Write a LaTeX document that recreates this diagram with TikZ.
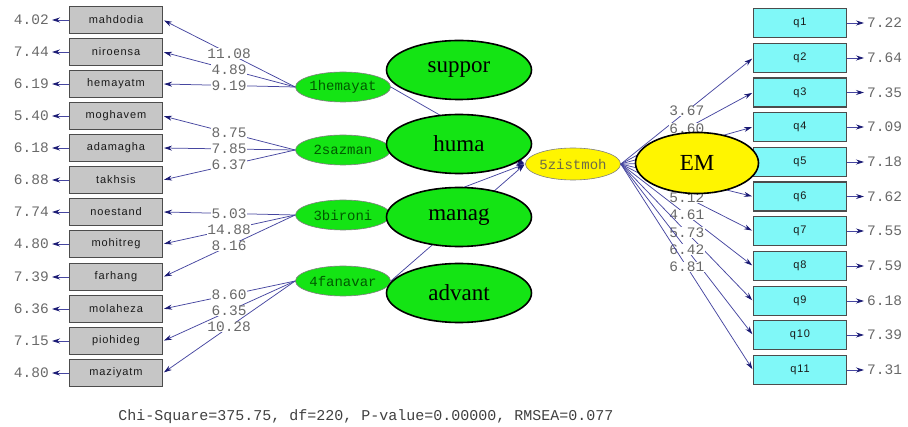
\documentclass[tikz,border=0pt]{standalone}
\usepackage{fontspec}
\setmainfont{Liberation Serif}
\newfontfamily\monof{Liberation Mono}
\newfontfamily\boxf[LetterSpace=8]{Liberation Sans}
\usetikzlibrary{shapes.geometric,arrows.meta}
\definecolor{lgreen}{RGB}{20,228,20}
\definecolor{lyellow}{RGB}{255,245,0}
\definecolor{lcyan}{RGB}{128,248,248}
\definecolor{lgray}{RGB}{198,198,198}
\definecolor{navy}{RGB}{70,70,160}
\definecolor{tipc}{RGB}{25,25,115}
\definecolor{numgray}{RGB}{105,105,105}
\tikzset{
  obs/.style={rectangle, draw=black!70, line width=1.1pt, fill=lgray, minimum width=93pt, minimum height=27pt, inner sep=0pt, font=\boxf\fontsize{11}{13}\selectfont, text=black!90},
  qbox/.style={obs, fill=lcyan, minimum height=29pt},
  lv/.style={ellipse, draw=black!50, line width=0.6pt, fill=lgreen, minimum width=95pt, minimum height=30pt, inner sep=0pt, font=\monof\fontsize{14}{16}\selectfont, text=black!65!green},
  zv/.style={lv, fill=lyellow, minimum width=92pt, minimum height=32pt, text=black!65!yellow},
  bigv/.style={ellipse, draw=black, line width=1.6pt, fill=lgreen, minimum width=145pt, minimum height=59pt, inner sep=0pt, font=\fontsize{23}{26}\selectfont},
  num/.style={font=\monof\fontsize{14.5}{16}\selectfont, text=numgray, inner sep=2pt},
  lab/.style={num, fill=white, inner sep=0.5pt},
  conn/.style={draw=navy, line width=0.75pt, -{Stealth[length=8pt,width=5pt,color=tipc]}, shorten >=1pt}
}
\begin{document}
\begin{tikzpicture}[x=1pt,y=-1pt]
\useasboundingbox (0,0) rectangle (908,427);
% left observed boxes
\foreach \n/\t/\y/\e in {a1/mahdodia/20/4.02, a2/niroensa/52/7.44, a3/hemayatm/84/6.19,
  a4/moghavem/116/5.40, a5/adamagha/148/6.18, a6/takhsis/180/6.88,
  a7/noestand/212/7.74, a8/mohitreg/244/4.80, a9/farhang/277/7.39,
  a10/molaheza/309/6.36, a11/piohideg/341/7.15, a12/maziyatm/373/4.80}{
  \node[obs] (\n) at (116,\y) {\t};
  \node[num, anchor=east] (e\n) at (51,\y) {\e};
  \draw[conn] (\n.west) -- (e\n.east);
}
% right observed boxes
\foreach \n/\t/\y/\e in {q1/q1/23/7.22, q2/q2/58/7.64, q3/q3/92.5/7.35, q4/q4/127/7.09,
  q5/q5/162/7.18, q6/q6/196.5/7.62, q7/q7/231/7.55, q8/q8/266/7.59,
  q9/q9/301/6.18, q10/q10/335/7.39, q11/q11/370/7.31}{
  \node[qbox] (\n) at (800,\y) {\t};
  \node[num, anchor=west] (e\n) at (865,\y) {\e};
  \draw[conn] (\n.east) -- (e\n.west);
}
% small latent variables
\node[lv] (L1) at (343,87) {1hemayat};
\node[lv] (L2) at (343,150) {2sazman};
\node[lv] (L3) at (343,215) {3bironi};
\node[lv] (L4) at (343,281) {4fanavar};
\node[zv] (Z) at (573,164) {5zistmoh};
% left loadings
\draw[conn] (L1.west) -- node[lab]{11.08} (a1.east);
\draw[conn] (L1.west) -- node[lab]{4.89} (a2.east);
\draw[conn] (L1.west) -- node[lab]{9.19} (a3.east);
\draw[conn] (L2.west) -- node[lab]{8.75} (a4.east);
\draw[conn] (L2.west) -- node[lab]{7.85} (a5.east);
\draw[conn] (L2.west) -- node[lab]{6.37} (a6.east);
\draw[conn] (L3.west) -- node[lab]{5.03} (a7.east);
\draw[conn] (L3.west) -- node[lab]{14.88} (a8.east);
\draw[conn] (L3.west) -- node[lab]{8.16} (a9.east);
\draw[conn] (L4.west) -- node[lab]{8.60} (a10.east);
\draw[conn] (L4.west) -- node[lab]{6.35} (a11.east);
\draw[conn] (L4.west) -- node[lab]{10.28} (a12.east);
% structural paths
\draw[conn] (L1.east) -- (Z.west);
\draw[conn] (L2.east) -- (Z.west);
\draw[conn] (L3.east) -- (Z.west);
\draw[conn] (L4.east) -- (Z.west);
% right loadings
\draw[conn] (Z.east) -- node[lab]{3.67} (q2.west);
\draw[conn] (Z.east) -- node[lab]{6.60} (q3.west);
\draw[conn] (Z.east) -- (q4.west);
\draw[conn] (Z.east) -- (q5.west);
\draw[conn] (Z.east) -- (q6.west);
\draw[conn] (Z.east) -- node[lab]{5.12} (q7.west);
\draw[conn] (Z.east) -- node[lab]{4.61} (q8.west);
\draw[conn] (Z.east) -- node[lab]{5.73} (q9.west);
\draw[conn] (Z.east) -- node[lab]{6.42} (q10.west);
\draw[conn] (Z.east) -- node[lab]{6.81} (q11.west);
% big overlay ellipses
\node[bigv] (B1) at (459,70) {suppor};
\node[bigv] (B2) at (459,144) {huma};
\node[bigv] (B3) at (459,217) {manag};
\node[bigv] (B4) at (459,293) {advant};
\node[bigv, fill=lyellow, minimum width=123pt, minimum height=61pt] (EM) at (697,163) {EM};
% fit statistics
\node[font=\monof\fontsize{15}{17}\selectfont, text=black!75] (fit) at (366,417) {Chi-Square=375.75, df=220, P-value=0.00000, RMSEA=0.077};
\end{tikzpicture}
\end{document}
